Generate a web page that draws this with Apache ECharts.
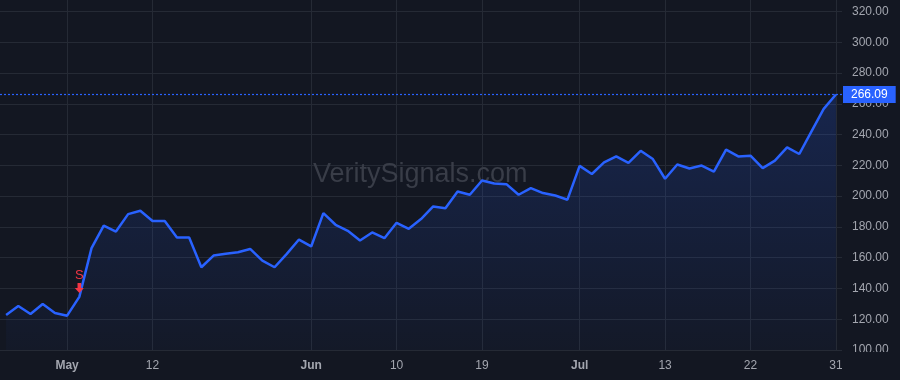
<!DOCTYPE html>
<html>
<head>
<meta charset="utf-8">
<script src="https://cdn.jsdelivr.net/npm/echarts@6/dist/echarts.min.js"></script>
<style>
  html, body { margin: 0; padding: 0; background: #131722; }
  #chart { width: 900px; height: 380px; }
</style>
</head>
<body>
<div id="chart"></div>
<script>
// trading days shown on the chart
const categories = [
  '04-24', '04-25', '04-26', '04-29', '04-30',
  '05-01', '05-02', '05-03', '05-06', '05-07', '05-08', '05-09', '05-12',
  '05-13', '05-14', '05-15', '05-16', '05-17', '05-20', '05-21', '05-22', '05-23', '05-24', '05-28', '05-30',
  '06-01', '06-03', '06-04', '06-05', '06-06', '06-07', '06-09', '06-10',
  '06-11', '06-12', '06-13', '06-14', '06-17', '06-18', '06-19',
  '06-20', '06-21', '06-24', '06-25', '06-26', '06-27', '06-28', '07-01',
  '07-02', '07-03', '07-05', '07-08', '07-09', '07-11', '07-13',
  '07-15', '07-16', '07-17', '07-18', '07-19', '07-20', '07-22',
  '07-23', '07-24', '07-25', '07-26', '07-29', '07-30', '07-31'
];

const prices = [
  122.8, 128.6, 123.4, 129.9, 124.1,
  122.3, 134.5, 166.2, 180.9, 177.0,
  188.3, 190.5, 183.8, 183.8, 173.1,
  173.1, 153.8, 161.4, 162.6, 163.5,
  165.7, 158.1, 153.8, 162.5, 171.8,
  167.3, 189.0, 181.4, 177.5, 171.2,
  176.4, 172.7, 182.7, 178.8, 185.1,
  193.3, 192.2, 203.0, 200.9, 210.2,
  208.2, 207.8, 200.9, 205.2, 202.0,
  200.4, 197.7, 219.7, 214.4, 221.9,
  225.8, 221.7, 229.5, 224.1, 211.3,
  220.6, 218.0, 219.9, 216.0, 230.3,
  225.8, 226.3, 218.2, 223.1, 231.7,
  227.4, 242.1, 256.7, 266.09
];

const lastPrice = 266.09;

// x tick labels and where they sit
const tickIdx = [5, 12, 25, 32, 39, 47, 54, 61, 68];
const tickText = ['May', '12', 'Jun', '10', '19', 'Jul', '13', '22', '31'];
const monthNames = ['May', 'Jun', 'Jul'];

// sell signal
const signalIdx = 6;
const signalText = 'S';

const BG = '#131722';
const GRID = '#252a35';
const TEXT = '#a3a6af';
const BLUE = '#2962ff';
const RED = '#f23645';
const FONT = '"Liberation Sans", Arial, sans-serif';

const chart = echarts.init(document.getElementById('chart'));

chart.setOption({
  animation: false,
  backgroundColor: BG,
  textStyle: { fontFamily: FONT },
  grid: { left: 0, right: 58, top: 0, bottom: 30 },
  graphic: [
    {
      type: 'text',
      left: 313,
      top: 161,
      z: 1,
      silent: true,
      style: {
        text: 'VeritySignals.com',
        fill: '#393d48',
        font: '27px ' + FONT
      }
    },
    {
      // mask the cut-off bottom price label
      type: 'rect',
      z: 10,
      silent: true,
      shape: { x: 842, y: 352, width: 58, height: 28 },
      style: { fill: BG }
    }
  ],
  xAxis: {
    type: 'category',
    data: categories,
    boundaryGap: true,
    axisLine: { show: false },
    axisTick: { show: false },
    axisLabel: {
      interval: (i) => tickIdx.includes(i),
      margin: 10,
      color: TEXT,
      fontSize: 12,
      formatter: (v, i) => {
        const t = tickText[tickIdx.indexOf(i)] || '';
        return monthNames.includes(t) ? '{b|' + t + '}' : t;
      },
      rich: { b: { fontWeight: 'bold', color: TEXT, fontSize: 12 } }
    },
    splitLine: {
      show: true,
      alignWithLabel: true,
      interval: (i) => tickIdx.includes(i),
      lineStyle: { color: GRID, width: 1 }
    }
  },
  yAxis: {
    type: 'value',
    position: 'right',
    min: 100,
    max: 327.5,
    interval: 20,
    axisLine: { show: false },
    axisTick: { show: false },
    axisLabel: {
      color: TEXT,
      fontSize: 12,
      margin: 10,
      showMaxLabel: false,
      formatter: (v) => v.toFixed(2)
    },
    splitLine: {
      showMaxLine: false,
      lineStyle: { color: GRID, width: 1 }
    }
  },
  series: [
    {
      type: 'line',
      data: prices,
      showSymbol: false,
      symbol: 'none',
      lineStyle: { color: BLUE, width: 2.5 },
      areaStyle: {
        color: new echarts.graphic.LinearGradient(0, 0, 0, 1, [
          { offset: 0, color: 'rgba(41, 98, 255, 0.28)' },
          { offset: 1, color: 'rgba(41, 98, 255, 0.04)' }
        ])
      },
      markLine: {
        silent: true,
        symbol: ['none', 'none'],
        lineStyle: { color: BLUE, type: [2, 2], width: 1.2, opacity: 1 },
        label: {
          position: 'end',
          distance: 1,
          formatter: lastPrice.toFixed(2),
          color: '#ffffff',
          fontSize: 12,
          backgroundColor: BLUE,
          padding: [3, 8, 2, 8]
        },
        data: [{ yAxis: lastPrice }]
      },
      markPoint: {
        silent: true,
        data: [
          {
            coord: [categories[signalIdx], prices[signalIdx]],
            symbol: 'path://M3,0 L7,0 L7,5 L10,5 L5,10 L0,5 L3,5 Z',
            symbolSize: [9, 10],
            symbolOffset: [0, -9],
            itemStyle: { color: RED },
            label: {
              show: true,
              position: 'top',
              distance: 1,
              formatter: signalText,
              color: RED,
              fontSize: 13
            }
          }
        ]
      }
    }
  ]
});
</script>
</body>
</html>
